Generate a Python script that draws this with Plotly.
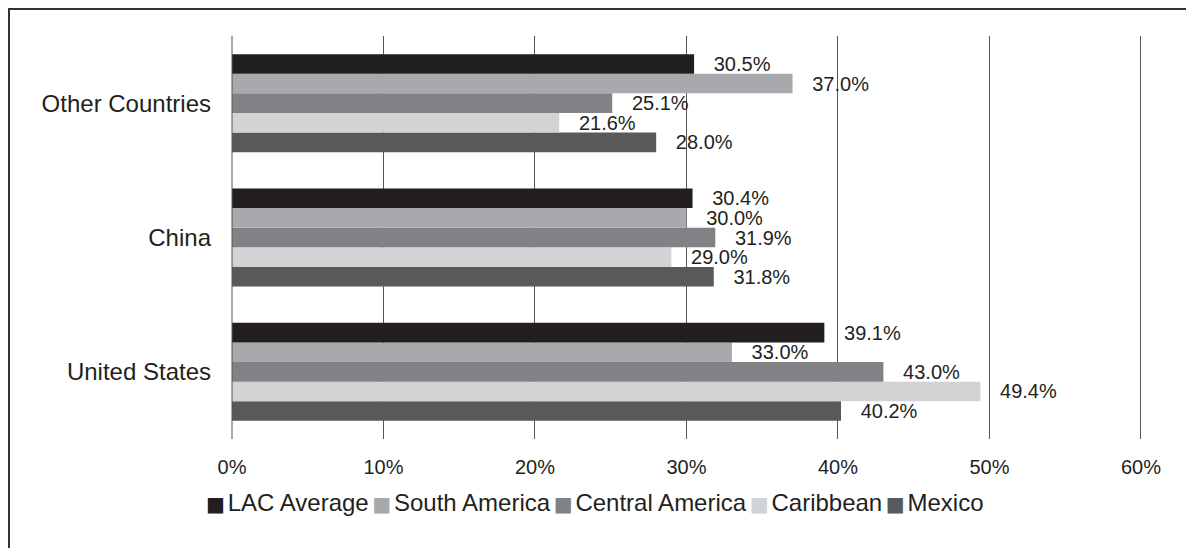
import plotly.graph_objects as go

categories = ["United States", "China", "Other Countries"]
series_names = ["LAC Average", "South America", "Central America", "Caribbean", "Mexico"]
lac_average = [39.1, 30.4, 30.5]
south_america = [33.0, 30.0, 37.0]
central_america = [43.0, 31.9, 25.1]
caribbean = [49.4, 29.0, 21.6]
mexico = [40.2, 31.8, 28.0]
x_ticks = [0, 10, 20, 30, 40, 50, 60]

series_values = [lac_average, south_america, central_america, caribbean, mexico]
colors = ["#231f20", "#a7a9ac", "#808285", "#d1d3d4", "#58595b"]

FONT = "Liberation Sans, Arial, sans-serif"
TXT = "#231f20"
fig = go.Figure()
# add bottom-most bar first (Mexico) so LAC Average sits on top of each group
for name, vals, col in reversed(list(zip(series_names, series_values, colors))):
    fig.add_trace(go.Bar(
        name=name, y=categories, x=vals, orientation="h",
        marker=dict(color=col, line=dict(width=0)),
        text=[f"   {v:.1f}%" for v in vals],
        textposition="outside", constraintext="none", cliponaxis=False,
        textfont=dict(family=FONT, size=20, color=TXT),
        hoverinfo="skip", showlegend=False,
    ))

# compact legend (square glyph directly before each name), built from the series arrays
thin = "<span style='font-size:13px'> </span>"
legend_text = thin.join(
    f"<span style='color:{c};font-family:DejaVu Sans;font-size:20px'>■</span>"
    f"<span style='font-size:10px'> </span>{n}"
    for n, c in zip(series_names, colors)
)

XMAX = 60.2
L, T, H = 224, 28, 403
W = round(909 * XMAX / 60)
fig.update_layout(
    width=1194, height=548,
    margin=dict(l=L, r=1194 - L - W, t=T, b=548 - T - H),
    paper_bgcolor="white", plot_bgcolor="white",
    barmode="group", bargap=0.27, bargroupgap=0,
    font=dict(family=FONT, color=TXT),
    showlegend=False,
    xaxis=dict(range=[0, XMAX], tickvals=x_ticks, ticktext=[f"{t}%" for t in x_ticks],
               showgrid=True, gridcolor="#555555", gridwidth=1,
               zeroline=False, showline=False, ticks="",
               ticklabelstandoff=14,
               tickfont=dict(size=20, family=FONT, color=TXT)),
    yaxis=dict(categoryorder="array", categoryarray=categories,
               showgrid=False, zeroline=False, showline=False, ticks="",
               ticklabelstandoff=20,
               tickfont=dict(size=24, family=FONT, color=TXT)),
    annotations=[dict(
        text=legend_text, xref="paper", yref="paper",
        x=(587 - L) / W, y=(T + H - 494) / H, xanchor="center", yanchor="middle",
        showarrow=False, font=dict(size=24, family=FONT, color=TXT),
    )],
    shapes=[
        dict(type="line", xref="paper", yref="paper", x0=0, x1=0, y0=0, y1=1,
             line=dict(color="#555555", width=1)),
        dict(type="rect", xref="paper", yref="paper",
             x0=(1 - L) / W, x1=(1220 - L) / W,
             y0=(T + H - 580) / H, y1=(T + H - 1) / H,
             line=dict(color="#333333", width=2), fillcolor="rgba(0,0,0,0)",
             layer="below"),
    ],
)

fig.write_html("out.html")
